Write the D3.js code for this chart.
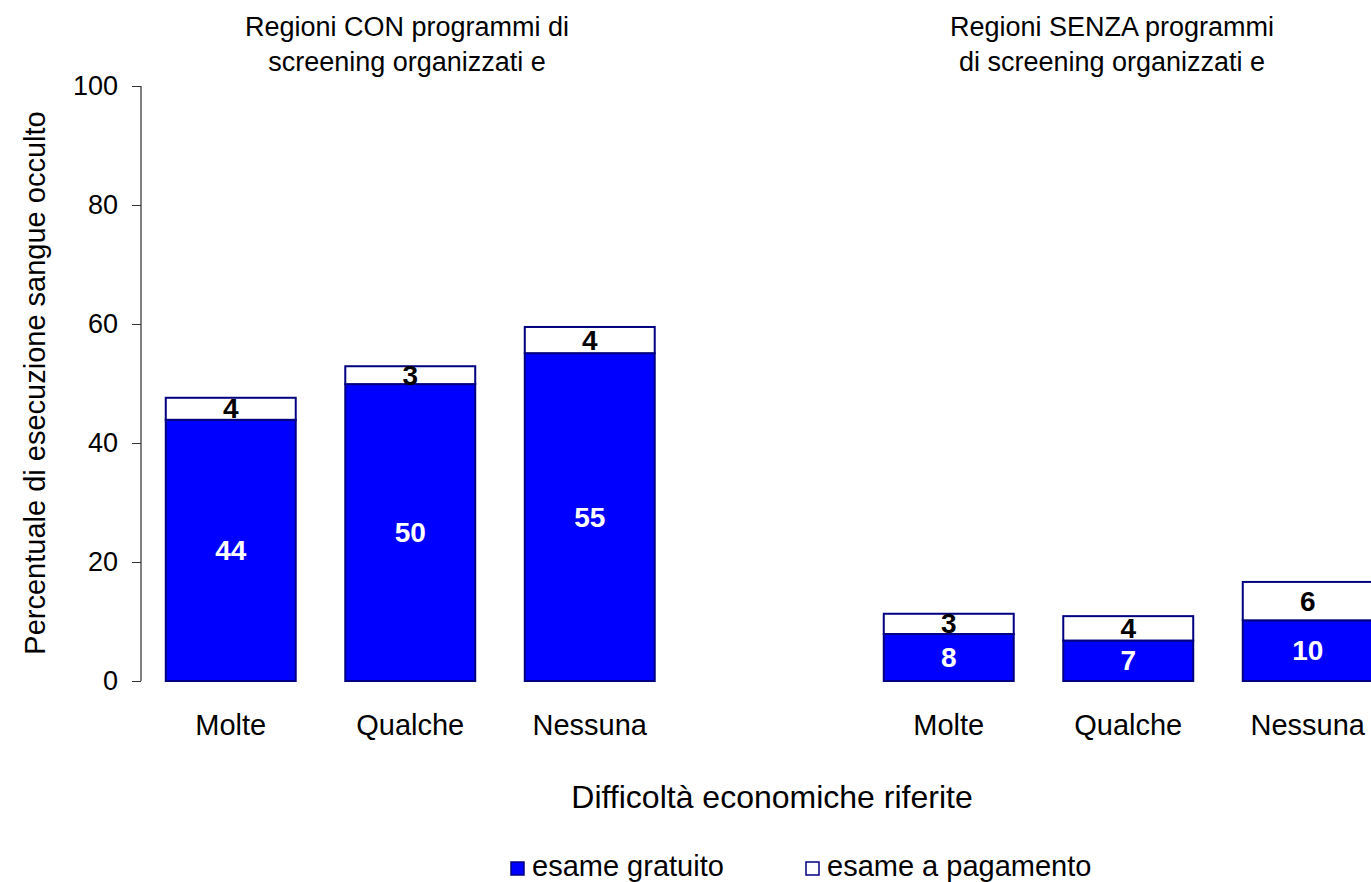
<!DOCTYPE html>
<html>
<head>
<meta charset="utf-8">
<script src="https://cdnjs.cloudflare.com/ajax/libs/d3/7.8.5/d3.min.js"></script>
<style>
  body { margin: 0; background: #fff; }
  svg { font-family: Arial, "Liberation Sans", sans-serif; }
</style>
</head>
<body>
<div id="chart"></div>
<script>
// data
var categories = ["Molte", "Qualche", "Nessuna"];
var groups = ["CON", "SENZA"];
var groupTitles = [
  ["Regioni CON programmi di", "screening organizzati e"],
  ["Regioni SENZA programmi", "di screening organizzati e"]
];
var gratuitoCon = [43.9, 49.9, 55.1];
var pagamentoCon = [3.7, 3.0, 4.4];
var gratuitoSenza = [7.9, 6.8, 10.2];
var pagamentoSenza = [3.4, 4.1, 6.45];
var seriesNames = ["esame gratuito", "esame a pagamento"];
var yTicks = [0, 20, 40, 60, 80, 100];

var width = 1371, height = 882;
var blue = "#0000ff", navy = "#000080";

var svg = d3.select("#chart").append("svg")
    .attr("width", width)
    .attr("height", height);

// one row per bar
var rows = [];
groups.forEach(function(g, gi) {
  var grat = gi == 0 ? gratuitoCon : gratuitoSenza;
  var pag = gi == 0 ? pagamentoCon : pagamentoSenza;
  categories.forEach(function(c, i) {
    rows.push({key: g + "|" + c, group: gi, cat: c, gratuito: grat[i], pagamento: pag[i]});
  });
});

// 7 slots, the middle one left empty between the two groups
var slots = rows.slice(0, 3).map(function(d) { return d.key; })
    .concat(["gap"])
    .concat(rows.slice(3).map(function(d) { return d.key; }));

var x = d3.scaleBand()
    .domain(slots)
    .range([141, 1397.5])
    .paddingInner(0.276)
    .paddingOuter(0.138);

var y = d3.scaleLinear()
    .domain([0, 100])
    .range([681, 86]);

// y axis
var yAxis = svg.append("g")
    .attr("transform", "translate(141,0)")
    .call(d3.axisLeft(y).tickValues(yTicks).tickSize(9).tickPadding(14));
yAxis.select(".domain").attr("stroke", "#808080").attr("stroke-width", 2)
    .attr("d", "M0," + y(100) + "V" + y(0));
yAxis.selectAll(".tick line").attr("stroke", "#333");
yAxis.selectAll(".tick text")
    .attr("fill", "#000")
    .style("font-size", "27px");

svg.append("text")
    .attr("transform", "translate(35," + 383 + ") rotate(-90)")
    .attr("text-anchor", "middle")
    .attr("dominant-baseline", "central")
    .style("font-size", "29px")
    .text("Percentuale di esecuzione sangue occulto");

// bars
var bars = svg.selectAll(".bar")
    .data(rows)
    .enter().append("g")
    .attr("class", "bar");

bars.append("rect")
    .attr("x", function(d) { return x(d.key); })
    .attr("width", x.bandwidth())
    .attr("y", function(d) { return y(d.gratuito); })
    .attr("height", function(d) { return y(0) - y(d.gratuito); })
    .attr("fill", blue)
    .attr("stroke", navy)
    .attr("stroke-width", 2);

bars.append("rect")
    .attr("x", function(d) { return x(d.key); })
    .attr("width", x.bandwidth())
    .attr("y", function(d) { return y(d.gratuito + d.pagamento); })
    .attr("height", function(d) { return y(d.gratuito) - y(d.gratuito + d.pagamento); })
    .attr("fill", "#fff")
    .attr("stroke", navy)
    .attr("stroke-width", 2);

var fmt = d3.format(".0f");

bars.append("text")
    .attr("x", function(d) { return x(d.key) + x.bandwidth() / 2; })
    .attr("y", function(d) { return (y(0) + y(d.gratuito)) / 2; })
    .attr("text-anchor", "middle")
    .attr("dominant-baseline", "central")
    .attr("fill", "#fff")
    .style("font-size", "28px")
    .style("font-weight", "bold")
    .text(function(d) { return fmt(d.gratuito); });

bars.append("text")
    .attr("x", function(d) { return x(d.key) + x.bandwidth() / 2; })
    .attr("y", function(d) { return (y(d.gratuito) + y(d.gratuito + d.pagamento)) / 2; })
    .attr("text-anchor", "middle")
    .attr("dominant-baseline", "central")
    .attr("fill", "#000")
    .style("font-size", "28px")
    .style("font-weight", "bold")
    .text(function(d) { return fmt(d.pagamento); });

// category labels
svg.selectAll(".catlabel")
    .data(rows)
    .enter().append("text")
    .attr("class", "catlabel")
    .attr("x", function(d) { return x(d.key) + x.bandwidth() / 2; })
    .attr("y", 735)
    .attr("text-anchor", "middle")
    .style("font-size", "29px")
    .text(function(d) { return d.cat; });

// group titles
var titleX = [407, 1112];
groupTitles.forEach(function(lines, gi) {
  lines.forEach(function(t, li) {
    svg.append("text")
      .attr("x", titleX[gi])
      .attr("y", 36 + li * 35)
      .attr("text-anchor", "middle")
      .style("font-size", "27px")
      .text(t);
  });
});

svg.append("text")
    .attr("x", 772)
    .attr("y", 808)
    .attr("text-anchor", "middle")
    .style("font-size", "32px")
    .text("Difficoltà economiche riferite");

// legend
var legendX = [511, 806];
var legend = svg.selectAll(".legend")
    .data(seriesNames)
    .enter().append("g")
    .attr("class", "legend")
    .attr("transform", function(d, i) { return "translate(" + legendX[i] + ",862)"; });

legend.append("rect")
    .attr("width", 13)
    .attr("height", 13)
    .attr("fill", function(d, i) { return i == 0 ? blue : "#fff"; })
    .attr("stroke", navy)
    .attr("stroke-width", 1.5);

legend.append("text")
    .attr("x", 21)
    .attr("y", 14)
    .style("font-size", "29px")
    .text(function(d) { return d; });
</script>
</body>
</html>
